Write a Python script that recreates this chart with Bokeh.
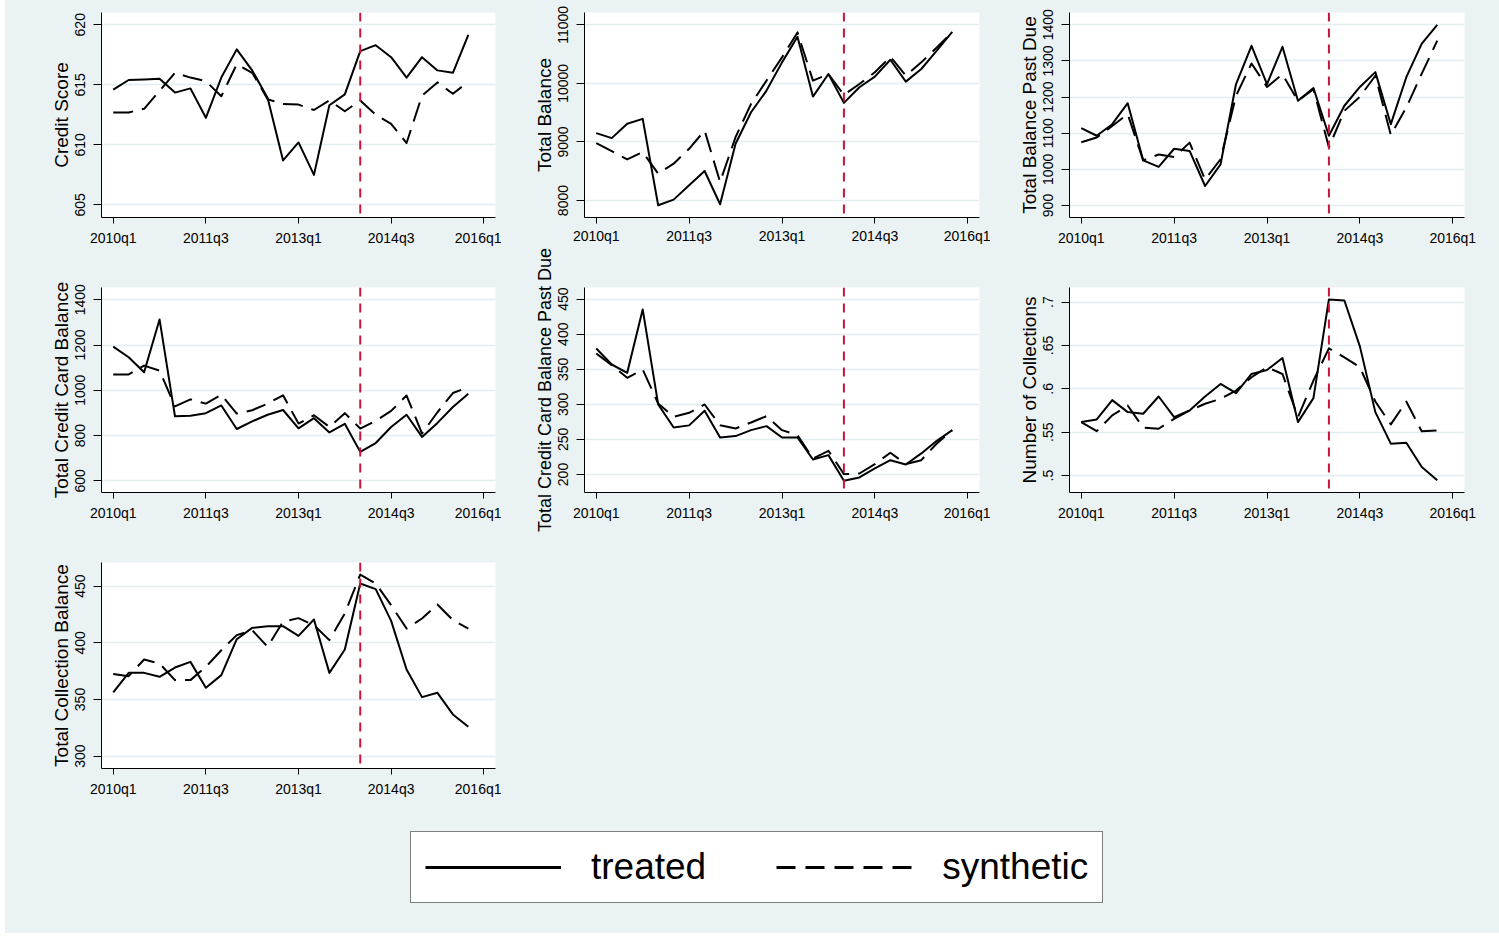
from bokeh.plotting import figure
from bokeh.models import ColumnDataSource, Span, FixedTicker, Range1d, Legend, LegendItem, Spacer
from bokeh.layouts import column, row
from bokeh.embed import file_html
from bokeh.resources import INLINE

# ---------------- data ----------------
quarters = ["2010q1", "2010q2", "2010q3", "2010q4", "2011q1", "2011q2", "2011q3", "2011q4",
            "2012q1", "2012q2", "2012q3", "2012q4", "2013q1", "2013q2", "2013q3", "2013q4",
            "2014q1", "2014q2", "2014q3", "2014q4", "2015q1", "2015q2", "2015q3", "2015q4"]
xtick_labels = ["2010q1", "2011q3", "2013q1", "2014q3", "2016q1"]
treatment_quarter = "2014q1"

credit_treated = [614.6, 615.4, 615.45, 615.5, 614.35, 614.7, 612.25, 615.6, 617.95, 616.2, 613.9, 608.7,
                  610.2, 607.5, 613.3, 614.2, 617.8, 618.3, 617.3, 615.6, 617.3, 616.2, 616.0, 619.15]
credit_synth = [612.7, 612.7, 613.0, 614.5, 616.0, 615.6, 615.3, 614.05, 616.7, 616.0, 613.8, 613.4,
                613.35, 612.9, 613.7, 612.8, 613.7, 612.5, 611.75, 610.15, 614.1, 615.2, 614.25, 615.25]

bal_treated = [9151, 9066, 9310, 9395, 7920, 8016, 8260, 8504, 7937, 8970, 9508, 9877,
               10359, 10796, 9775, 10160, 9667, 9934, 10115, 10404, 10030, 10246, 10558, 10881]
bal_synth = [8981, 8845, 8703, 8828, 8459, 8630, 8884, 9196, 8317, 9083, 9650, 10047,
             10444, 10870, 10047, 10160, 9803, 9990, 10189, 10455, 10132, 10359, 10614, 10870]

pastdue_treated = [1114, 1093, 1125, 1183, 1025, 1007, 1057, 1051, 954, 1014, 1236, 1342,
                   1236, 1339, 1190, 1225, 1093, 1176, 1228, 1269, 1125, 1255, 1348, 1400]
pastdue_synth = [1075, 1088, 1120, 1153, 1025, 1041, 1034, 1074, 972, 1028, 1204, 1293,
                 1228, 1263, 1190, 1222, 1061, 1162, 1201, 1259, 1095, 1171, 1265, 1356]

cc_treated = [1193, 1146, 1080, 1313, 885, 888, 899, 933, 829, 863, 892, 913,
              832, 877, 814, 852, 728, 767, 838, 892, 794, 856, 926, 985]
cc_synth = [1070, 1070, 1109, 1087, 929, 960, 941, 981, 897, 912, 941, 978,
            853, 890, 838, 899, 831, 865, 909, 977, 809, 903, 988, 1014]

ccpd_treated = [379.7, 356.8, 345.0, 435.3, 300.0, 267.0, 270.0, 290.8, 252.8, 254.7, 263.2, 268.9,
                252.8, 252.8, 221.4, 227.6, 191.0, 195.8, 208.6, 220.4, 214.3, 230.0, 248.0, 263.2]
ccpd_synth = [372.5, 355.9, 337.8, 349.7, 301.2, 282.2, 287.9, 299.8, 270.3, 265.6, 274.1, 283.2,
              263.2, 256.0, 222.8, 233.8, 200.5, 201.4, 214.8, 231.0, 214.8, 220.4, 244.2, 263.2]

ncoll_treated = [0.5617, 0.5648, 0.587, 0.5732, 0.5713, 0.5912, 0.5675, 0.5751, 0.5912, 0.6057, 0.595, 0.6172,
                 0.6218, 0.6356, 0.5617, 0.5893, 0.7031, 0.7019, 0.649, 0.5732, 0.5368, 0.5379, 0.51, 0.4946]
ncoll_synth = [0.5617, 0.5513, 0.5694, 0.5808, 0.5552, 0.554, 0.5655, 0.5751, 0.5828, 0.5885, 0.5981, 0.6134,
               0.6249, 0.6172, 0.5674, 0.6096, 0.6467, 0.6364, 0.6249, 0.5854, 0.559, 0.5854, 0.551, 0.5521]

collbal_treated = [356.2, 373.5, 373.5, 370.0, 378.2, 383.2, 360.3, 371.5, 403.2, 413.2, 414.7, 414.7,
                   406.2, 420.6, 373.5, 394.1, 452.4, 447.4, 419.4, 376.5, 352.1, 355.9, 336.8, 325.9]
collbal_synth = [372.4, 370.6, 385.3, 381.8, 367.1, 367.1, 378.8, 393.5, 406.8, 411.2, 396.5, 418.8,
                 421.8, 415.6, 402.4, 425.9, 460.3, 452.4, 433.2, 412.6, 421.5, 433.8, 420.0, 412.6]

legend_labels = ["treated", "synthetic"]

# ---------------- styling ----------------
BG = "#EAF2F3"
GRID = "#E3ECEE"
RED = "#C8143C"
FONT = "Liberation Sans"
DASH = "20 9"


def qidx(q):
    return (int(q[:4]) - 2010) * 4 + int(q[5]) - 1


xs = [qidx(q) for q in quarters]
XR = (-0.76, 24.76)


def panel(title, treated, synth, yr, yticks, ylabels, width, height, bl, br, bt, bb,
          title_size="19px", xstand=6):
    p = figure(width=width, height=height, output_backend="svg", toolbar_location=None,
               x_range=Range1d(*XR), y_range=Range1d(*yr),
               min_border_left=bl, min_border_right=br, min_border_top=bt, min_border_bottom=bb)
    p.background_fill_color = "white"
    p.border_fill_color = BG
    p.outline_line_color = None
    p.xgrid.visible = False
    p.ygrid.grid_line_color = GRID
    p.ygrid.grid_line_width = 1.5
    p.ygrid.ticker = FixedTicker(ticks=yticks)

    src = ColumnDataSource(dict(x=xs, t=treated, s=synth))
    p.line("x", "t", source=src, line_color="black", line_width=2, line_join="round")
    p.line("x", "s", source=src, line_color="black", line_width=2, line_dash=DASH, line_join="round")
    p.add_layout(Span(location=qidx(treatment_quarter), dimension="height", line_color=RED,
                      line_width=2, line_dash="9 7"))

    xa = p.xaxis[0]
    xa.ticker = FixedTicker(ticks=[qidx(q) for q in xtick_labels])
    xa.major_label_overrides = {qidx(q): q for q in xtick_labels}
    ya = p.yaxis[0]
    ya.ticker = FixedTicker(ticks=yticks)
    ya.major_label_overrides = {t: l for t, l in zip(yticks, ylabels)}
    ya.major_label_orientation = "vertical"
    ya.axis_label = title
    for ax in (xa, ya):
        ax.axis_line_color = "black"
        ax.axis_line_width = 1
        ax.major_tick_line_color = "black"
        ax.major_tick_in = 0
        ax.minor_tick_line_color = None
        ax.major_label_text_font = FONT
        ax.major_label_text_font_size = "14px"
        ax.major_label_text_color = "black"
    xa.major_label_standoff = xstand
    ya.major_label_standoff = 8
    xa.major_tick_out = 6
    ya.major_tick_out = 8
    ya.axis_label_text_font = FONT
    ya.axis_label_text_font_size = title_size
    ya.axis_label_text_font_style = "normal"
    ya.axis_label_text_color = "black"
    ya.axis_label_standoff = 1
    return p


W1, W2, W3 = 496, 489, 509
# column 1 (page x 5..501)
p1 = panel("Credit Score", credit_treated, credit_synth, (603.95, 621.02),
           [605, 610, 615, 620], ["605", "610", "615", "620"], W1, 250, 96, 6, 12, 33)
p4 = panel("Total Credit Card Balance", cc_treated, cc_synth, (548.6, 1454),
           [600, 800, 1000, 1200, 1400], ["600", "800", "1000", "1200", "1400"], W1, 275, 96, 6, 37, 33)
p7 = panel("Total Collection Balance", collbal_treated, collbal_synth, (289.1, 470.9),
           [300, 350, 400, 450], ["300", "350", "400", "450"], W1, 275, 96, 6, 37, 32)
# column 2 (page x 501..990)
p2 = panel("Total Balance", bal_treated, bal_synth, (7711, 11210),
           [8000, 9000, 10000, 11000], ["8000", "9000", "10000", "11000"], W2, 246, 83, 11, 12, 29,
           xstand=4)
p5 = panel("Total Credit Card Balance Past Due", ccpd_treated, ccpd_synth, (174.3, 466.6),
           [200, 250, 300, 350, 400, 450], ["200", "250", "300", "350", "400", "450"], W2, 314, 83, 11, 41, 68,
           title_size="18px")
# column 3 (page x 990..1499)
p3 = panel("Total Balance Past Due", pastdue_treated, pastdue_synth, (866.8, 1434),
           [900, 1000, 1100, 1200, 1300, 1400], ["900", "1000", "1100", "1200", "1300", "1400"],
           W3, 250, 79, 35, 12, 33)
p6 = panel("Number of Collections", ncoll_treated, ncoll_synth, (0.4805, 0.7169),
           [0.5, 0.55, 0.6, 0.65, 0.7], [".5", ".55", ".6", ".65", ".7"], W3, 275, 79, 35, 37, 33)

sp2 = Spacer(width=W2, height=240)
sp3 = Spacer(width=W3, height=275)

# legend
lg = figure(width=W1 + W2 + W3, height=133, output_backend="svg", toolbar_location=None,
            x_range=Range1d(0, 1), y_range=Range1d(0, 1),
            min_border_left=0, min_border_right=0, min_border_top=0, min_border_bottom=0,
            x_axis_type=None, y_axis_type=None)
lg.background_fill_color = BG
lg.border_fill_color = BG
lg.outline_line_color = None
lg.grid.visible = False
hidden = ColumnDataSource(dict(x=[-5, -4], y=[-5, -4]))  # outside the view: only feeds the legend keys
r1 = lg.line("x", "y", source=hidden, line_color="black", line_width=3)
r2 = lg.line("x", "y", source=hidden, line_color="black", line_width=3, line_dash="19 10")
legend = Legend(items=[LegendItem(label=legend_labels[0], renderers=[r1]),
                       LegendItem(label=legend_labels[1], renderers=[r2])],
                location=(405, 30), orientation="horizontal",
                label_text_font=FONT, label_text_font_size="37px", label_text_color="black",
                glyph_width=136, glyph_height=20, label_standoff=30, spacing=70,
                padding=14, margin=0, border_line_color="black", border_line_width=1,
                background_fill_color="white", background_fill_alpha=1.0)
lg.add_layout(legend)

main = column(
    row(column(p1, p4, p7), column(p2, p5, sp2), column(p3, p6, sp3)),
    lg,
    styles={"background-color": BG},
)
layout = row(Spacer(width=5, height=935), main)

open("out.html", "w").write(file_html(layout, INLINE))
